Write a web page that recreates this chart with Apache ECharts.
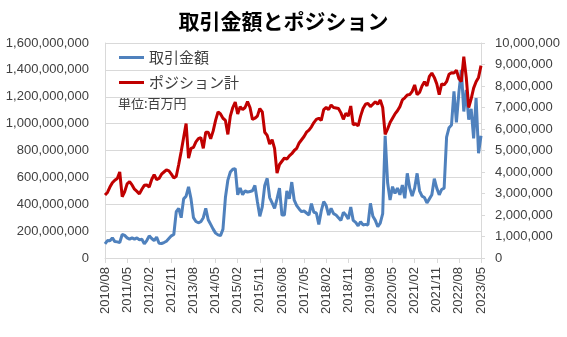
<!DOCTYPE html>
<html><head><meta charset="utf-8">
<script src="https://cdn.jsdelivr.net/npm/echarts@6/dist/echarts.min.js"></script>
<style>html,body{margin:0;padding:0;background:#fff}#c{width:567px;height:337px}</style>
</head><body><div id="c"></div>
<script>
// Monthly categories 2010/08 .. 2023/05
const startYear = 2010, startMonth = 8, monthCount = 154;
const categories = [];
for (let k = 0; k < monthCount; k++) {
  const m0 = startMonth - 1 + k;
  const y = startYear + Math.floor(m0 / 12);
  const m = (m0 % 12) + 1;
  categories.push(y + '/' + (m < 10 ? '0' + m : m));
}

// 取引金額 (millions, left axis)
const tradeAmountM = [
  105,130,128,150,122,120,115,175,168,150,
  140,150,140,150,135,140,105,130,165,145,
  130,155,110,108,115,125,145,165,175,345,
  370,300,440,460,530,440,300,272,262,270,
  300,370,285,250,215,185,172,166,215,450,
  580,640,660,665,470,520,470,500,490,495,
  500,540,420,310,380,540,593,450,410,370,
  440,520,320,320,500,440,565,430,390,365,
  345,350,335,320,405,340,335,250,350,420,
  390,320,370,330,320,300,280,340,320,290,
  380,280,265,240,270,246,250,246,407,310,
  280,233,260,330,910,560,432,531,480,520,
  470,543,444,630,520,460,520,630,500,460,
  450,410,440,470,590,520,470,510,520,900,
  970,990,1240,1010,1230,1400,1090,1250,1030,1110,
  890,1190,780,910
];

// ポジション計 (millions, right axis)
const positionM = [
  2.93,3.05,3.3,3.5,3.62,3.7,4.0,2.85,3.08,3.45,
  3.55,3.4,3.2,3.1,2.98,3.2,3.38,3.4,3.3,3.65,
  3.88,3.65,3.7,3.9,4.0,4.1,4.05,3.9,3.72,3.8,
  4.35,4.95,5.6,6.25,4.65,5.1,5.15,5.4,5.55,5.6,
  5.1,5.85,5.85,5.55,5.9,6.4,6.8,6.7,6.5,6.4,
  5.75,6.6,7.0,7.25,6.7,7.04,6.9,7.0,7.27,7.0,
  6.45,6.5,6.6,6.95,6.8,5.85,5.7,5.3,5.5,5.1,
  3.95,4.35,4.5,4.65,4.6,4.75,4.85,5.0,5.1,5.35,
  5.5,5.65,5.85,5.95,6.1,6.3,6.45,6.5,6.4,6.9,
  7.0,6.9,7.12,7.0,6.98,6.95,6.75,6.45,6.73,6.6,
  7.07,6.19,6.25,6.14,6.6,6.95,7.15,7.19,7.04,7.15,
  7.27,7.15,7.35,7.0,5.75,6.0,6.3,6.5,6.7,6.85,
  7.04,7.35,7.45,7.58,7.6,7.75,8.05,7.6,7.7,8.0,
  8.2,8.0,8.45,8.6,8.4,8.1,7.6,8.1,8.05,8.2,
  8.55,8.62,8.6,8.74,8.35,8.2,9.36,8.4,7.0,7.4,
  7.9,8.2,8.4,8.95
];

const leftTicks = {min: 0, max: 1600000000, interval: 200000000};
const rightTicks = {min: 0, max: 10000000, interval: 1000000};

const fmt = v => Number(v).toLocaleString('en-US');
const FONT = '"Liberation Sans", Arial, sans-serif';
const JP = '"Noto Sans CJK JP", sans-serif';
const grey = '#d9d9d9';
const txt = '#404040';

const chart = echarts.init(document.getElementById('c'), null, {renderer: 'canvas'});
chart.setOption({
  animation: false,
  backgroundColor: '#fff',
  title: {
    text: '取引金額とポジション',
    left: 'center', top: 6,
    textStyle: {fontFamily: JP, fontSize: 21, fontWeight: 'bold', color: '#000'}
  },
  legend: {
    orient: 'vertical', left: 114, top: 45,
    itemWidth: 25, itemHeight: 3, itemGap: 10, icon: 'rect',
    textStyle: {fontFamily: JP, fontSize: 15, color: txt},
    data: ['取引金額', 'ポジション計']
  },
  graphic: [{
    type: 'text', left: 118, top: 97,
    style: {text: '単位:百万円', font: '13px "Noto Sans CJK JP", sans-serif', fill: txt}
  }],
  grid: {left: 105, right: 86, top: 43, bottom: 79, containLabel: false},
  xAxis: {
    type: 'category', data: categories, boundaryGap: false,
    axisLine: {lineStyle: {color: grey, width: 1}},
    axisTick: {show: true, interval: 8, length: 5, lineStyle: {color: grey}},
    axisLabel: {interval: 8, rotate: 90, margin: 9, fontFamily: FONT, fontSize: 13, color: txt},
    splitLine: {show: false}
  },
  yAxis: [{
    type: 'value', min: leftTicks.min, max: leftTicks.max, interval: leftTicks.interval,
    axisLine: {show: true, lineStyle: {color: grey}},
    axisTick: {show: false},
    axisLabel: {formatter: fmt, fontFamily: FONT, fontSize: 13, color: txt, margin: 16},
    splitLine: {show: true, lineStyle: {color: grey, width: 1}}
  }, {
    type: 'value', position: 'right', min: rightTicks.min, max: rightTicks.max, interval: rightTicks.interval,
    axisLine: {show: true, lineStyle: {color: grey}},
    axisTick: {show: true, length: 4, lineStyle: {color: grey}},
    axisLabel: {formatter: fmt, fontFamily: FONT, fontSize: 13, color: txt, margin: 14},
    splitLine: {show: false}
  }],
  series: [{
    name: '取引金額', type: 'line', yAxisIndex: 0, symbol: 'none',
    data: tradeAmountM.map(v => v * 1e6),
    lineStyle: {color: '#4f81bd', width: 3}, itemStyle: {color: '#4f81bd'}
  }, {
    name: 'ポジション計', type: 'line', yAxisIndex: 1, symbol: 'none',
    data: positionM.map(v => v * 1e6),
    lineStyle: {color: '#c00000', width: 3}, itemStyle: {color: '#c00000'}
  }]
});
</script></body></html>
